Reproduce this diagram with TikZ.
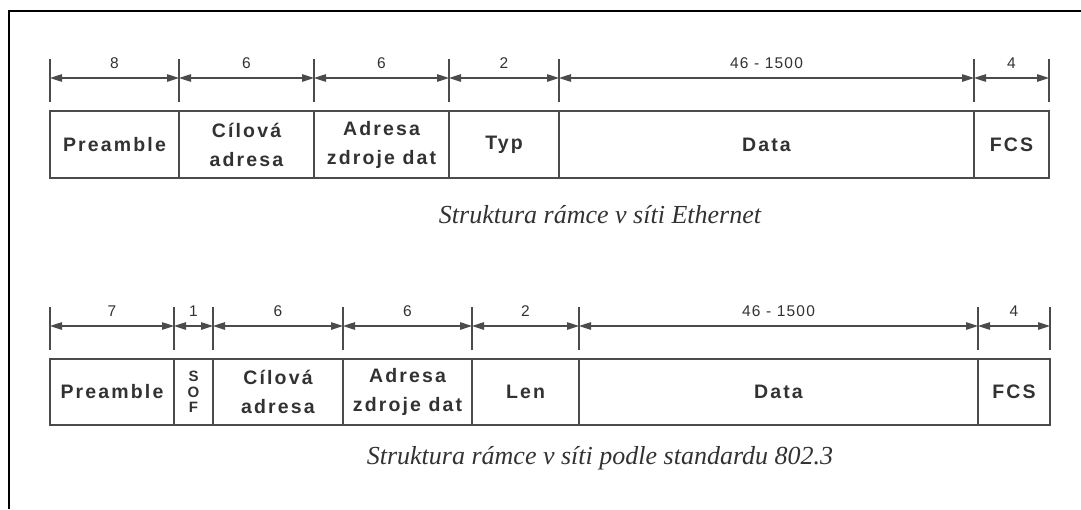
\documentclass[tikz,border=0pt]{standalone}
\usepackage{fontspec}
\setmainfont{Liberation Serif}
\newfontfamily\fieldfont[LetterSpace=11]{Liberation Sans}
\newfontfamily\sizefont[LetterSpace=8]{Liberation Sans}
\definecolor{inkgrey}{RGB}{50, 50, 50}
\definecolor{rulegrey}{RGB}{75, 75, 75}
\usepackage{tikz}
\usetikzlibrary{positioning,arrows.meta}

\begin{document}
\begin{tikzpicture}[
    x=1pt, y=-1pt,
    field/.style={draw=rulegrey, line width=1.3pt, rectangle, outer sep=0pt, inner sep=0pt, minimum height=67pt, align=center, text=inkgrey, font=\fieldfont\bfseries\fontsize{19.5}{29}\selectfont},
    dim/.style={<->, >={Triangle[length=12pt, width=7.5pt]}, draw=rulegrey, line width=1.1pt},
    tick/.style={draw=rulegrey, line width=1.3pt},
    size/.style={text=inkgrey, font=\sizefont\fontsize{15.5}{18}\selectfont},
    caption/.style={anchor=base, text=inkgrey, font=\itshape\fontsize{26}{30}\selectfont}
]
\useasboundingbox (0,0) rectangle (1081,509);

% Frame
\draw[line width=2.4pt] (9,509) -- (9,11) -- (1081,11);

% Ethernet frame
\node[field, minimum width=129pt, anchor=north west] (pre) at (50,111) {Preamble};
\node[field, minimum width=135pt, right=0pt of pre] (dst) {Cílová\\adresa};
\node[field, minimum width=135pt, right=0pt of dst] (src) {Adresa\\zdroje dat};
\node[field, minimum width=110pt, right=0pt of src] (typ) {Typ};
\node[field, minimum width=415pt, right=0pt of typ] (data) {Data};
\node[field, minimum width=75pt, right=0pt of data] (fcs) {FCS};

\node[caption] (cap) at (600,223) {Struktura rámce v síti Ethernet};

% 802.3 frame
\node[field, minimum height=66pt, minimum width=124pt, anchor=north west] (pre2) at (50,359) {Preamble};
\node[field, minimum height=66pt, minimum width=39pt, right=0pt of pre2, font=\fieldfont\bfseries\fontsize{15}{15.5}\selectfont] (sof) {S\\O\\F};
\node[field, minimum height=66pt, minimum width=130pt, right=0pt of sof] (dst2) {Cílová\\adresa};
\node[field, minimum height=66pt, minimum width=129pt, right=0pt of dst2] (src2) {Adresa\\zdroje dat};
\node[field, minimum height=66pt, minimum width=107pt, right=0pt of src2] (len) {Len};
\node[field, minimum height=66pt, minimum width=399pt, right=0pt of len] (data2) {Data};
\node[field, minimum height=66pt, minimum width=72pt, right=0pt of data2] (fcs2) {FCS};

\node[caption] (cap2) at (600,464) {Struktura rámce v síti podle standardu 802.3};

% Byte counts
\foreach \f/\n in {pre/8, dst/6, src/6, typ/2, data/46 - 1500, fcs/4, pre2/7, sof/1, dst2/6, src2/6, len/2, data2/46 - 1500, fcs2/4} {
    \draw[tick] ([yshift=9pt]\f.north west) -- ([yshift=52pt]\f.north west);
    \draw[tick] ([yshift=9pt]\f.north east) -- ([yshift=52pt]\f.north east);
    \draw[dim] ([yshift=33pt]\f.north west) -- ([yshift=33pt]\f.north east)
        node[size, midway, yshift=15pt] {\n};
}

\end{tikzpicture}
\end{document}
